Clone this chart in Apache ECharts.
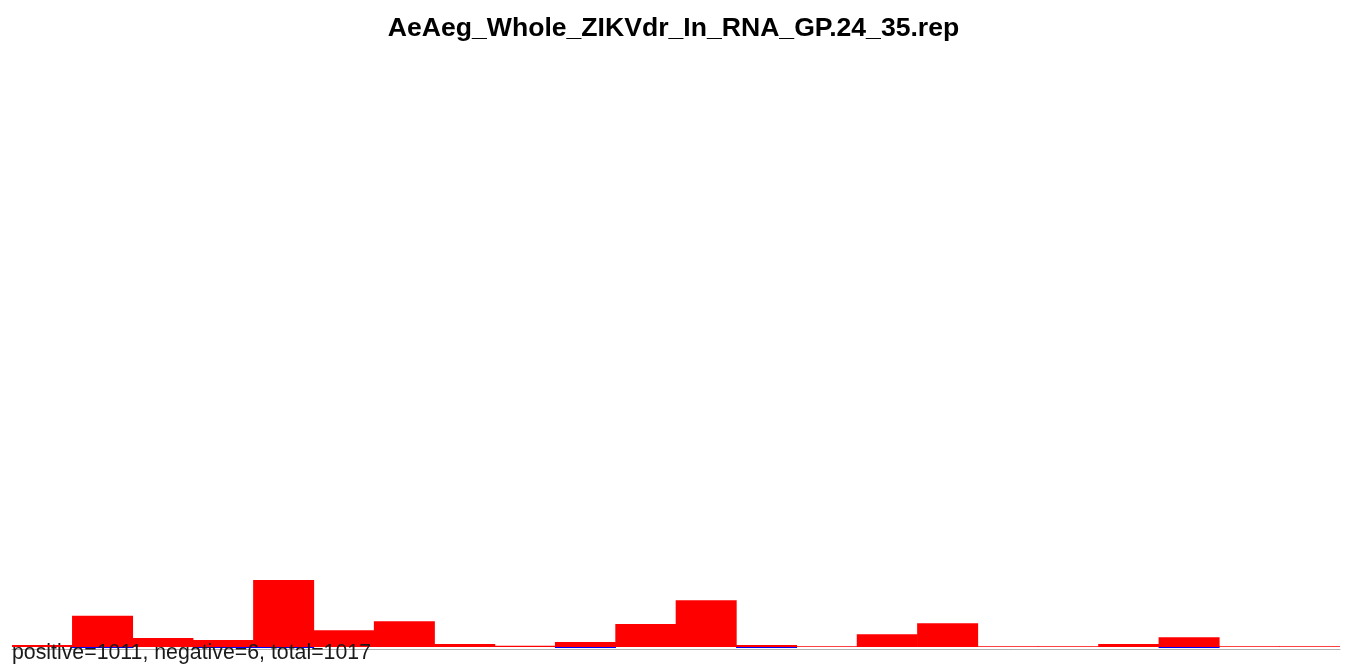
<!DOCTYPE html>
<html>
<head>
<meta charset="utf-8">
<style>html,body{margin:0;padding:0;background:#fff}#c{width:1347px;height:664px}</style>
<script src="https://cdn.jsdelivr.net/npm/echarts@6/dist/echarts.min.js"></script>
</head>
<body>
<div id="c"></div>
<script>
const titleText = 'AeAeg_Whole_ZIKVdr_In_RNA_GP.24_35.rep';
const categories = ['14','15','16','17','18','19','20','21','22','23','24','25','26','27','28','29','30','31','32','33','34','35'];
const positiveCounts = [7,108,31,24,231,58,89,10,4,17,79,161,7,3,44,82,3,3,10,34,3,3];
const negativeCounts = ['-',-1,'-',-1,-1,'-','-','-','-',-1,'-','-',-1,'-','-','-','-','-','-',-1,'-','-'];
const summaryText = 'positive=1011, negative=6, total=1017';

const chart = echarts.init(document.getElementById('c'), null, {renderer: 'canvas'});
chart.setOption({
  animation: false,
  backgroundColor: '#ffffff',
  title: {
    text: titleText,
    left: 'center',
    padding: [5, 0, 5, 4],
    top: 10,
    textStyle: {fontFamily: 'Liberation Sans', fontWeight: 'bold', fontSize: 26.6, color: '#000'}
  },
  grid: {left: 12, right: 7, top: 49, bottom: 15, containLabel: false},
  xAxis: {
    type: 'category',
    data: categories,
    axisLine: {onZero: false, lineStyle: {color: '#b0b0b0', width: 1}},
    axisTick: {show: false},
    axisLabel: {show: false},
    splitLine: {show: false}
  },
  yAxis: {
    type: 'value',
    min: -6.9,
    max: 2063.1,
    show: false,
    splitLine: {show: false}
  },
  series: [
    {
      type: 'bar',
      data: negativeCounts,
      barGap: '-100%',
      barWidth: 61,
      barMinHeight: 1,
      itemStyle: {color: '#0000ff'}
    },
    {
      type: 'bar',
      data: positiveCounts,
      barGap: '-100%',
      barWidth: 61,
      itemStyle: {color: '#ff0000'}
    }
  ],
  graphic: [{
    type: 'text',
    z: 100,
    style: {
      x: 12, y: 653.5,
      text: summaryText,
      font: '21.3px "Liberation Sans"',
      fill: '#1a1a1a',
      align: 'left', verticalAlign: 'middle',
      textAlign: 'left', textVerticalAlign: 'middle'
    }
  }]
});
</script>
</body>
</html>
